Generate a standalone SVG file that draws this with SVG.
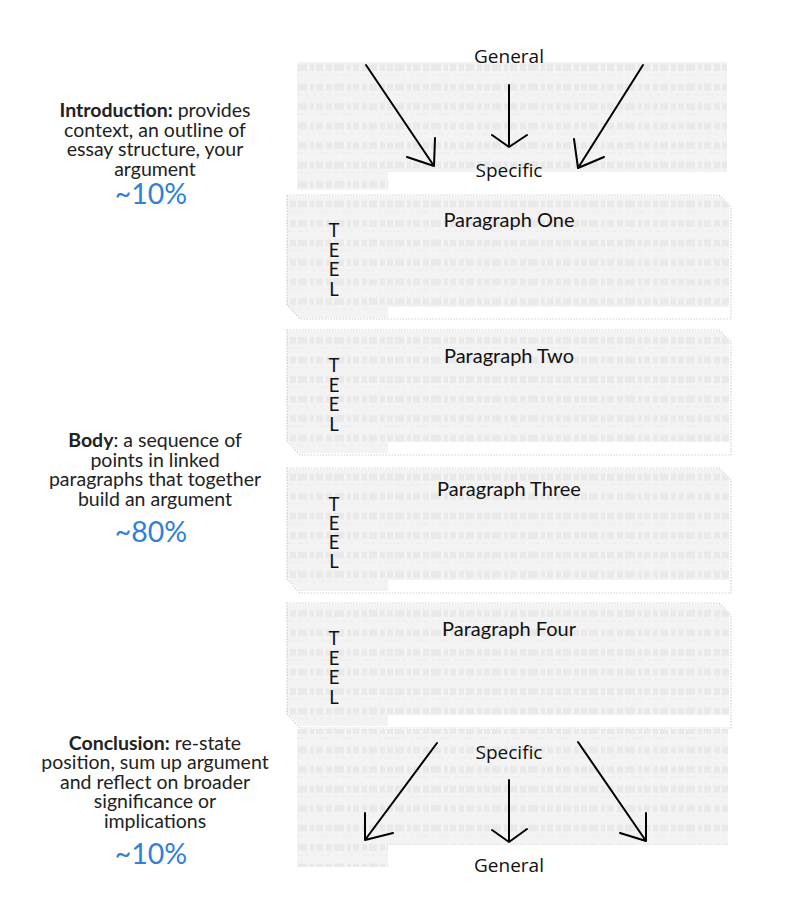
<svg xmlns="http://www.w3.org/2000/svg" width="800" height="915" viewBox="0 0 800 915">
<defs>
<pattern id="txt" x="0" y="0" width="97" height="19.5" patternUnits="userSpaceOnUse">
<rect width="97" height="19.5" fill="#f3f3f3"/>
<line x1="0" y1="9" x2="97" y2="9" stroke="#e9e9e9" stroke-width="7" stroke-dasharray="5 2 9 3 4 2 7 3 6 2 10 3 4 2 6 3 5 2 8 3"/>
<line x1="0" y1="16.5" x2="97" y2="16.5" stroke="#efefef" stroke-width="2" stroke-dasharray="3 3 6 2 4 4"/>
</pattern>
<style>
.lab{font-family:Lato,"Liberation Sans",sans-serif;font-size:19.5px;fill:#222;text-anchor:middle}
.lab .b{font-weight:bold}
.pct{font-family:Lato,"Liberation Sans",sans-serif;font-size:28.5px;fill:#2f80d9;text-anchor:middle}
.ttl{font-family:Lato,"Liberation Sans",sans-serif;font-size:20px;fill:#111;text-anchor:middle}
.teel{font-family:Lato,"Liberation Sans",sans-serif;font-size:18.5px;fill:#111;text-anchor:middle}
.gs{font-family:"Open Sans","DejaVu Sans",sans-serif;font-size:19px;fill:#111;text-anchor:middle}
.tex{fill:url(#txt)}
.box{fill:none;stroke:#cfcfcf;stroke-width:1.2;stroke-dasharray:1.5 1.5}
.arr{fill:none;stroke:#000;stroke-width:2;stroke-linecap:round;stroke-linejoin:round}
</style>
</defs>
<rect width="800" height="915" fill="#fff"/>

<g id="intro-page">
<path class="tex" d="M297,62 H727 V172 H388 V190 H297 Z"/>
<text class="gs" x="509" y="63">General</text>
<text class="gs" x="509" y="176.5">Specific</text>
</g>

<g id="paragraph-one">
<path class="tex" d="M287,196 H719 L729,206 V307 H388 V318 H300 L287,305 Z"/>
<path class="box" d="M287,195 H719 L731,207 V319 H300 L287,305 Z"/>
<text class="ttl" x="509" y="226.5">Paragraph One</text>
<text class="teel" x="334"><tspan x="334" y="237">T</tspan><tspan x="334" y="256.5">E</tspan><tspan x="334" y="276">E</tspan><tspan x="334" y="295.5">L</tspan></text>
</g>

<g id="paragraph-two">
<path class="tex" d="M287,331 H719 L729,341 V442 H388 V453 H300 L287,440 Z"/>
<path class="box" d="M287,330 H719 L731,342 V455 H300 L287,441 Z"/>
<text class="ttl" x="509" y="362.5">Paragraph Two</text>
<text class="teel" x="334"><tspan x="334" y="372">T</tspan><tspan x="334" y="391.5">E</tspan><tspan x="334" y="411">E</tspan><tspan x="334" y="430.5">L</tspan></text>
</g>

<g id="paragraph-three">
<path class="tex" d="M287,469 H719 L729,479 V580 H388 V591 H300 L287,578 Z"/>
<path class="box" d="M287,468 H719 L731,480 V593 H300 L287,579 Z"/>
<text class="ttl" x="509" y="495.5">Paragraph Three</text>
<text class="teel" x="334"><tspan x="334" y="511">T</tspan><tspan x="334" y="530">E</tspan><tspan x="334" y="549">E</tspan><tspan x="334" y="568">L</tspan></text>
</g>

<g id="paragraph-four">
<path class="tex" d="M287,604 H719 L729,614 V715 H388 V726 H300 L287,713 Z"/>
<path class="box" d="M287,603 H719 L731,615 V728 H300 L287,714 Z"/>
<text class="ttl" x="509" y="635.5">Paragraph Four</text>
<text class="teel" x="334"><tspan x="334" y="645">T</tspan><tspan x="334" y="664.5">E</tspan><tspan x="334" y="684">E</tspan><tspan x="334" y="703.5">L</tspan></text>
</g>

<g id="conclusion-page">
<path class="tex" d="M297,729 H728 V845 H388 V867 H297 Z"/>
<text class="gs" x="509" y="758.5">Specific</text>
<text class="gs" x="509" y="871.5">General</text>
</g>

<g id="intro-label">
<text class="lab"><tspan x="155" y="117"><tspan class="b">Introduction:</tspan> provides</tspan><tspan x="155" y="136.5">context, an outline of</tspan><tspan x="155" y="156">essay structure, your</tspan><tspan x="155" y="175.5">argument</tspan></text>
<text class="pct" x="151" y="204">~10%</text>
</g>

<g id="body-label">
<text class="lab"><tspan x="155" y="447"><tspan class="b">Body</tspan>: a sequence of</tspan><tspan x="155" y="466.5">points in linked</tspan><tspan x="155" y="486">paragraphs that together</tspan><tspan x="155" y="505.5">build an argument</tspan></text>
<text class="pct" x="151" y="542">~80%</text>
</g>

<g id="conclusion-label">
<text class="lab"><tspan x="155" y="749.5"><tspan class="b">Conclusion:</tspan> re-state</tspan><tspan x="155" y="769">position, sum up argument</tspan><tspan x="155" y="788.5">and reflect on broader</tspan><tspan x="155" y="808">significance or</tspan><tspan x="155" y="827.5">implications</tspan></text>
<text class="pct" x="151" y="864">~10%</text>
</g>

<g id="connectors">
<path class="arr" d="M366,65 L434,166 M435,138 L434,166 L407,157"/>
<path class="arr" d="M509,85 V147 M492,135 L509,147 L527,135"/>
<path class="arr" d="M643,65 L578,168 M574,139 L578,168 L604,157"/>
<path class="arr" d="M437,743 L365,840 M365,813 L365,840 L393,833"/>
<path class="arr" d="M509,780 V842 M492,830 L509,842 L527,829"/>
<path class="arr" d="M578,742 L646,841 M646,813 L646,841 L620,833"/>
</g>
</svg>
